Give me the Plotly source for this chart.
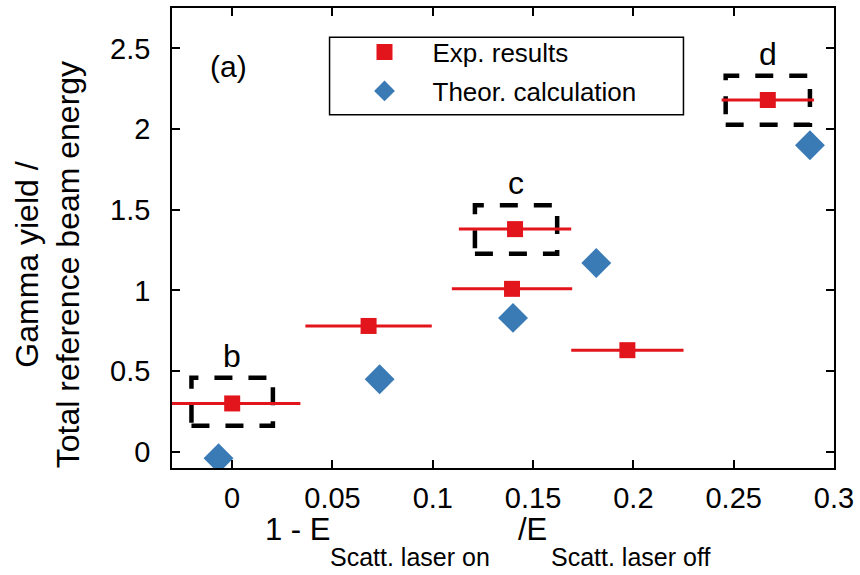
import plotly.graph_objects as go

# Experimental results (red squares, horizontal error bars)
exp_x = [0.0, 0.068, 0.1395, 0.141, 0.197, 0.267]
exp_y = [0.30, 0.78, 1.01, 1.38, 0.63, 2.18]
exp_xerr = [0.034, 0.0315, 0.030, 0.028, 0.028, 0.023]

# Theoretical calculation (blue diamonds)
theo_x = [-0.0068, 0.0735, 0.140, 0.1815, 0.288]
theo_y = [-0.04, 0.45, 0.83, 1.17, 1.90]

# Highlighted boxes b, c, d
box_labels = ["b", "c", "d"]
box_x = [0.0, 0.1415, 0.267]
box_y = [0.31, 1.378, 2.178]
box_dx = [0.0203, 0.0205, 0.021]
box_dy = [0.149, 0.15, 0.152]

x_ticks = [0, 0.05, 0.1, 0.15, 0.2, 0.25, 0.3]
x_ticklabels = ["0", "0.05", "0.1", "0.15", "0.2", "0.25", "0.3"]
y_ticks = [0, 0.5, 1, 1.5, 2, 2.5]
y_ticklabels = ["0", "0.5", "1", "1.5", "2", "2.5"]

RED = "#e3151c"
BLUE = "#3a7ab5"
FONT = "Liberation Sans, Arial, sans-serif"

fig = go.Figure()

fig.add_trace(go.Scatter(
    x=exp_x, y=exp_y, mode="markers", name="Exp. results",
    legendgroup="exp",
    marker=dict(symbol="square", size=16, color=RED),
    error_x=dict(type="data", array=exp_xerr, color=RED, thickness=3, width=0),
))
fig.add_trace(go.Scatter(
    x=theo_x, y=theo_y, mode="markers", name="Theor. calculation",
    legendgroup="theo",
    marker=dict(symbol="diamond", size=23, color=BLUE),
))

for lab, bx, by, dx, dy in zip(box_labels, box_x, box_y, box_dx, box_dy):
    fig.add_shape(type="rect", xref="x", yref="y",
                  x0=bx - dx, x1=bx + dx, y0=by - dy, y1=by + dy,
                  line=dict(color="black", width=4.5, dash="18px,16px"),
                  layer="below")
    fig.add_annotation(x=bx, y=by + dy, xref="x", yref="y", text=lab,
                       showarrow=False, xanchor="center", yanchor="bottom", yshift=2,
                       font=dict(family=FONT, size=32, color="black"))

fig.add_annotation(x=0.0858, y=0.872, xref="paper", yref="paper", text="(a)",
                   showarrow=False, xanchor="center", yanchor="middle",
                   font=dict(family=FONT, size=30, color="black"))

# legend frame
fig.add_shape(type="rect", xref="paper", yref="paper",
              x0=0.238, x1=0.7726, y0=0.768, y1=0.9366,
              line=dict(color="black", width=1.5))

# y-axis title (two lines)
fig.add_annotation(x=-0.188, y=0.442, xref="paper", yref="paper",
                   text="Gamma yield /<br>Total reference beam energy",
                   textangle=-90, showarrow=False, xanchor="center", yanchor="middle",
                   font=dict(family=FONT, size=32, color="black"))

# x-axis title: 1 - E_{Scatt. laser on} / E_{Scatt. laser off}
xt_main = dict(family=FONT, size=31, color="black")
xt_sub = dict(family=FONT, size=25, color="black")
fig.add_annotation(x=0.137, y=-0.134, xref="paper", yref="paper", text="1 - E",
                   showarrow=False, xanchor="left", yanchor="middle", font=xt_main)
fig.add_annotation(x=0.2364, y=-0.1935, xref="paper", yref="paper", text="Scatt. laser on",
                   showarrow=False, xanchor="left", yanchor="middle", font=xt_sub)
fig.add_annotation(x=0.5693, y=-0.134, xref="paper", yref="paper", text="/E",
                   showarrow=False, xanchor="right", yanchor="middle", font=xt_main)
fig.add_annotation(x=0.5693, y=-0.1935, xref="paper", yref="paper", text="Scatt. laser off",
                   showarrow=False, xanchor="left", yanchor="middle", font=xt_sub)

fig.update_layout(
    width=860, height=575,
    margin=dict(l=172, r=24, t=6, b=107),
    plot_bgcolor="white", paper_bgcolor="white",
    font=dict(family=FONT, size=30, color="black"),
    showlegend=True,
    legend=dict(x=0.2485, y=0.955, xanchor="left", yanchor="top",
                bgcolor="rgba(0,0,0,0)", borderwidth=0,
                itemwidth=86, tracegroupgap=2,
                font=dict(family=FONT, size=26, color="black")),
    xaxis=dict(range=[-0.03, 0.3], tickvals=x_ticks, ticktext=x_ticklabels,
               ticks="inside", ticklen=8, tickwidth=1.5, tickcolor="black",
               showline=True, linecolor="black", linewidth=1.5, mirror="ticks",
               showgrid=False, zeroline=False, ticklabelstandoff=3,
               tickfont=dict(family=FONT, size=29, color="black")),
    yaxis=dict(range=[-0.1, 2.75], tickvals=y_ticks, ticktext=y_ticklabels,
               ticks="inside", ticklen=8, tickwidth=1.5, tickcolor="black",
               showline=True, linecolor="black", linewidth=1.5, mirror="ticks",
               showgrid=False, zeroline=False, ticklabelstandoff=14,
               tickfont=dict(family=FONT, size=29, color="black")),
)

fig.write_html("out.html", config={"displayModeBar": False},
               post_script="document.body.style.margin='0';")
